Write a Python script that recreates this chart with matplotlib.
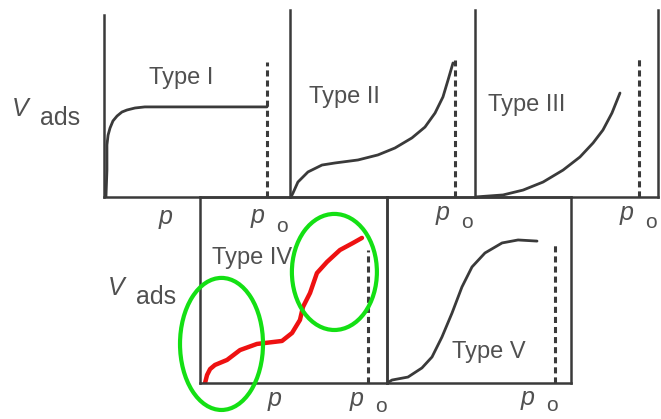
import matplotlib
matplotlib.use("Agg")
import matplotlib.pyplot as plt
from matplotlib.patches import Ellipse

W, H = 661, 419
INK = "#3a3a3a"
TXT = "#505050"

# isotherm shapes, x = p/p0, y = amount adsorbed (fraction of axis height)
type1_p = [0.012, 0.018, 0.018, 0.025, 0.037, 0.055, 0.08, 0.11, 0.141, 0.19, 0.25, 1.0]
type1_v = [0.0, 0.148, 0.286, 0.34, 0.379, 0.418, 0.445, 0.467, 0.478, 0.489, 0.495, 0.495]

type2_p = [0.006, 0.018, 0.048, 0.109, 0.194, 0.273, 0.412, 0.533, 0.636, 0.739, 0.818,
           0.879, 0.927, 0.958, 0.988]
type2_v = [0.0, 0.021, 0.080, 0.134, 0.171, 0.182, 0.198, 0.225, 0.262, 0.316, 0.374,
           0.449, 0.535, 0.626, 0.717]

type3_p = [0.0, 0.171, 0.293, 0.415, 0.537, 0.640, 0.720, 0.780, 0.835, 0.884]
type3_v = [0.0, 0.011, 0.037, 0.080, 0.144, 0.214, 0.289, 0.358, 0.449, 0.556]

type4_p = [0.030, 0.042, 0.060, 0.089, 0.161, 0.238, 0.339, 0.488, 0.548, 0.595, 0.613,
           0.655, 0.696, 0.756, 0.833, 0.911, 0.964]
type4_v = [0.0, 0.043, 0.075, 0.097, 0.124, 0.177, 0.210, 0.226, 0.269, 0.339, 0.409,
           0.484, 0.591, 0.651, 0.715, 0.753, 0.780]

type5_p = [0.0, 0.030, 0.125, 0.208, 0.268, 0.327, 0.387, 0.446, 0.506, 0.583, 0.685,
           0.780, 0.893]
type5_v = [0.0, 0.016, 0.032, 0.081, 0.140, 0.247, 0.376, 0.516, 0.624, 0.699, 0.753,
           0.769, 0.763]

titles = ["Type I", "Type II", "Type III", "Type IV", "Type V"]

plt.rcParams["font.family"] = ["Liberation Sans", "DejaVu Sans"]
fig = plt.figure(figsize=(W / 100, H / 100), dpi=100)
fig.patch.set_facecolor("white")


def panel(left, right, top, bottom, dash, box=False):
    # axes placed by pixel edges; p0 (dashed line) sits at x = 1
    ax = fig.add_axes([left / W, 1 - bottom / H, (right - left) / W, (bottom - top) / H])
    ax.set_xlim(0, (right - left) / (dash - left))
    ax.set_ylim(0, 1)
    ax.set_xticks([])
    ax.set_yticks([])
    ax.patch.set_alpha(0)
    for side in ["top", "right"]:
        ax.spines[side].set_visible(box)
    for s in ax.spines.values():
        s.set_color(INK)
        s.set_linewidth(1.8)
    return ax


def dashed(ax, top):
    ax.plot([1, 1], [0, top], color=INK, lw=2.2, linestyle=(0, (2, 1.3)),
            solid_capstyle="butt")


def curve(ax, p, v, **kw):
    ax.plot(p, v, solid_joinstyle="round", solid_capstyle="round", **kw)


def fx(px):
    return px / W


def fy(py):
    return 1 - py / H


ax1 = panel(104, 290, 15, 197, 267)
curve(ax1, type1_p, type1_v, color=INK, lw=2)
dashed(ax1, 0.74)

ax2 = panel(290, 475, 10, 197, 455)
curve(ax2, type2_p, type2_v, color=INK, lw=2)
dashed(ax2, 0.733)

ax3 = panel(475, 658, 10, 197, 639)
ax3.spines["right"].set_visible(True)
curve(ax3, type3_p, type3_v, color=INK, lw=2)
dashed(ax3, 0.743)

ax4 = panel(200, 387, 197, 383, 368, box=True)
dashed(ax4, 0.715)
curve(ax4, type4_p, type4_v, color="#777777", lw=2)
curve(ax4, type4_p, type4_v, color="#ee1111", lw=3.2)
for cx, cy, w, h in [(0.128, 0.21, 0.494, 0.71), (0.80, 0.597, 0.506, 0.624)]:
    ax4.add_patch(Ellipse((cx, cy), w, h, fill=False, edgecolor="#14e014",
                          lw=3, clip_on=False, zorder=5))

ax5 = panel(387, 571, 197, 383, 555, box=True)
curve(ax5, type5_p, type5_v, color=INK, lw=2)
dashed(ax5, 0.742)

# panel titles
title_pos = [(149, 78), (309, 97), (488, 105), (212, 258), (452, 352)]
for t, (x, y) in zip(titles, title_pos):
    fig.text(fx(x), fy(y), t, fontsize=17, color=TXT, va="center", ha="left")

# axis labels
for vx, vy in [(12, 109), (108, 288)]:
    fig.text(fx(vx), fy(vy), "V", fontsize=18, color=TXT, style="italic",
             va="center", ha="left")
    fig.text(fx(vx + 28), fy(vy + 9), "ads", fontsize=18, color=TXT,
             va="center", ha="left")

for px, py in [(159, 217), (268, 399)]:
    fig.text(fx(px), fy(py), "p", fontsize=18, color=TXT, style="italic",
             va="center", ha="left")

# p0 labels: (x, y of p, drop of the subscript)
for px, py, dy in [(251, 216, 10), (436, 213, 10), (620, 213, 10),
                   (350, 399, 7), (521, 398, 7)]:
    fig.text(fx(px), fy(py), "p", fontsize=18, color=TXT, style="italic",
             va="center", ha="left")
    fig.text(fx(px + 25), fy(py + dy), "o", fontsize=15, color=TXT,
             va="center", ha="left")

fig.savefig("out.png", dpi=100, facecolor="white")
